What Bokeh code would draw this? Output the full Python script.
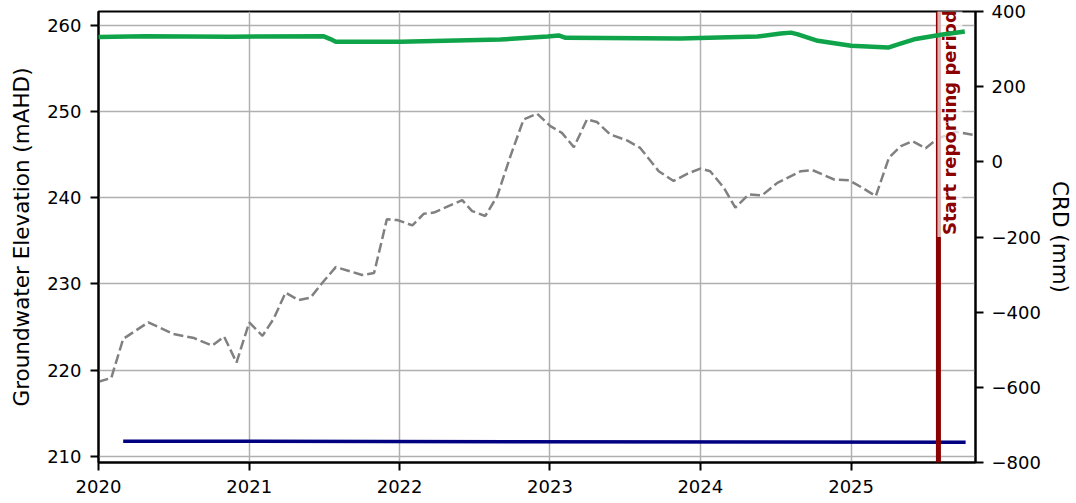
import math
import pandas as pd
from bokeh.plotting import figure
from bokeh.models import (Range1d, LinearAxis, FixedTicker, DatetimeTickFormatter,
                          Label, Span)
from bokeh.embed import file_html
from bokeh.resources import INLINE

# ---- data ----
gw_dates = ["2020-01-01", "2020-04-23", "2020-11-16", "2021-07-01", "2021-07-17", "2021-07-30",
            "2022-01-03", "2022-09-03", "2022-12-26", "2023-01-22", "2023-02-08", "2023-11-13",
            "2024-05-19", "2024-07-14", "2024-08-08", "2024-08-25", "2024-10-12", "2025-01-01",
            "2025-04-01", "2025-04-25", "2025-06-03", "2025-08-07", "2025-10-04"]
gw_level = [258.65, 258.72, 258.68, 258.72, 258.40, 258.10,
            258.10, 258.34, 258.70, 258.82, 258.55, 258.48,
            258.70, 259.05, 259.15, 258.95, 258.20, 257.62,
            257.42, 257.78, 258.38, 258.90, 259.28]

base_dates = ["2020-03-01", "2025-10-06"]
base_level = [211.77, 211.66]

crd_dates = ["2020-01-01", "2020-02-01", "2020-03-01", "2020-05-01", "2020-07-01", "2020-08-20",
             "2020-10-03", "2020-11-01", "2020-12-01", "2021-01-01", "2021-02-02", "2021-03-01",
             "2021-03-30", "2021-05-01", "2021-05-30", "2021-06-28", "2021-07-30", "2021-10-02",
             "2021-10-31", "2021-12-01", "2021-12-27", "2022-02-01", "2022-03-01", "2022-03-25",
             "2022-06-02", "2022-06-26", "2022-07-28", "2022-08-26", "2022-09-27", "2022-10-29",
             "2022-12-01", "2023-01-02", "2023-01-30", "2023-02-28", "2023-04-01", "2023-04-25",
             "2023-05-27", "2023-07-07", "2023-08-08", "2023-09-22", "2023-10-28", "2023-11-30",
             "2024-01-01", "2024-01-25", "2024-02-27", "2024-03-26", "2024-04-27", "2024-05-30",
             "2024-07-06", "2024-09-01", "2024-09-29", "2024-11-21", "2024-12-27", "2025-01-25",
             "2025-03-02", "2025-04-03", "2025-05-02", "2025-05-30", "2025-07-01", "2025-07-30",
             "2025-09-12", "2025-10-27"]
crd_mm = [-585, -575, -471, -427, -458, -469, -489, -465, -534, -427, -463, -418,
          -348, -368, -361, -321, -280, -301, -296, -153, -155, -169, -138, -135,
          -102, -131, -144, -91, 15, 113, 128, 95, 77, 39, 113, 106,
          73, 57, 37, -25, -51, -32, -18, -25, -69, -122, -87, -89,
          -56, -25, -22, -47, -49, -67, -91, 11, 42, 55, 36, 62,
          80, 71]

year_ticks = ["2020-01-01", "2021-01-01", "2022-01-01", "2023-01-01", "2024-01-01", "2025-01-01"]
gw_ticks = [210, 220, 230, 240, 250, 260]
crd_ticks = [-800, -600, -400, -200, 0, 200, 400]
report_start = "2025-08-01"
report_label = "Start reporting period"


def ms(d):
    return pd.Timestamp(d).value / 1e6


FONT = "DejaVu Sans"

p = figure(width=1076, height=503, x_axis_type="datetime",
           output_backend="svg", toolbar_location=None,
           min_border_left=98, min_border_right=101, min_border_top=11, min_border_bottom=41)
p.x_range = Range1d(ms("2020-01-01"), ms("2025-10-30"))
p.y_range = Range1d(209.3, 261.6)
p.extra_y_ranges = {"crd": Range1d(-800, 400)}

# grid
p.xgrid.grid_line_color = "#b0b0b0"
p.ygrid.grid_line_color = "#b0b0b0"
p.xgrid.grid_line_width = 1.5
p.ygrid.grid_line_width = 1.5
p.outline_line_color = "black"
p.outline_line_width = 2

# lines
p.line([pd.Timestamp(d) for d in gw_dates], gw_level, line_color="#10a44a", line_width=4.5,
       level="overlay")
p.line([pd.Timestamp(d) for d in base_dates], base_level, line_color="#000080", line_width=3.5)
p.line([pd.Timestamp(d) for d in crd_dates], crd_mm, line_color="#808080", line_width=2.5,
       line_dash="10 4", y_range_name="crd")

# axes
xa = p.xaxis[0]
xa.ticker = FixedTicker(ticks=[ms(d) for d in year_ticks])
xa.formatter = DatetimeTickFormatter(years="%Y", months="%Y", days="%Y", hours="%Y",
                                     minutes="%Y", seconds="%Y", milliseconds="%Y",
                                     microseconds="%Y")
ya = p.yaxis[0]
ya.ticker = FixedTicker(ticks=gw_ticks)
ya.axis_label = "Groundwater Elevation (mAHD)"

ra = LinearAxis(y_range_name="crd", ticker=FixedTicker(ticks=crd_ticks),
                axis_label="CRD (mm)")
ra.major_label_overrides = {t: (str(t).replace("-", "\u2212")) for t in crd_ticks}
p.add_layout(ra, "right")

for ax in [xa, ya, ra]:
    ax.axis_line_color = "black"
    ax.axis_line_width = 2
    ax.major_tick_line_color = "black"
    ax.major_tick_line_width = 2
    ax.major_tick_out = 8
    ax.major_tick_in = 0
    ax.minor_tick_line_color = None
    ax.major_label_text_font = FONT
    ax.major_label_text_font_size = "18px"
    ax.major_label_text_color = "black"
    ax.major_label_standoff = 9
    ax.axis_label_text_font = FONT
    ax.axis_label_text_font_size = "21.5px"
    ax.axis_label_text_font_style = "normal"
    ax.axis_label_text_color = "black"
    ax.axis_label_standoff = 10
ra.major_label_standoff = 8
ra.axis_label_standoff = 4

# reporting period marker
p.add_layout(Span(location=ms(report_start), dimension="height",
                  line_color="darkred", line_width=5))
p.add_layout(Label(x=ms(report_start), y=-200, y_range_name="crd", text=report_label,
                   angle=math.pi / 2, angle_units="rad", text_align="left",
                   text_baseline="top", text_color="darkred", text_font=FONT,
                   text_font_style="bold", text_font_size="18px",
                   background_fill_color="white", background_fill_alpha=0.7,
                   padding=2, x_offset=-1))

open("out.html", "w").write(file_html(p, INLINE))
